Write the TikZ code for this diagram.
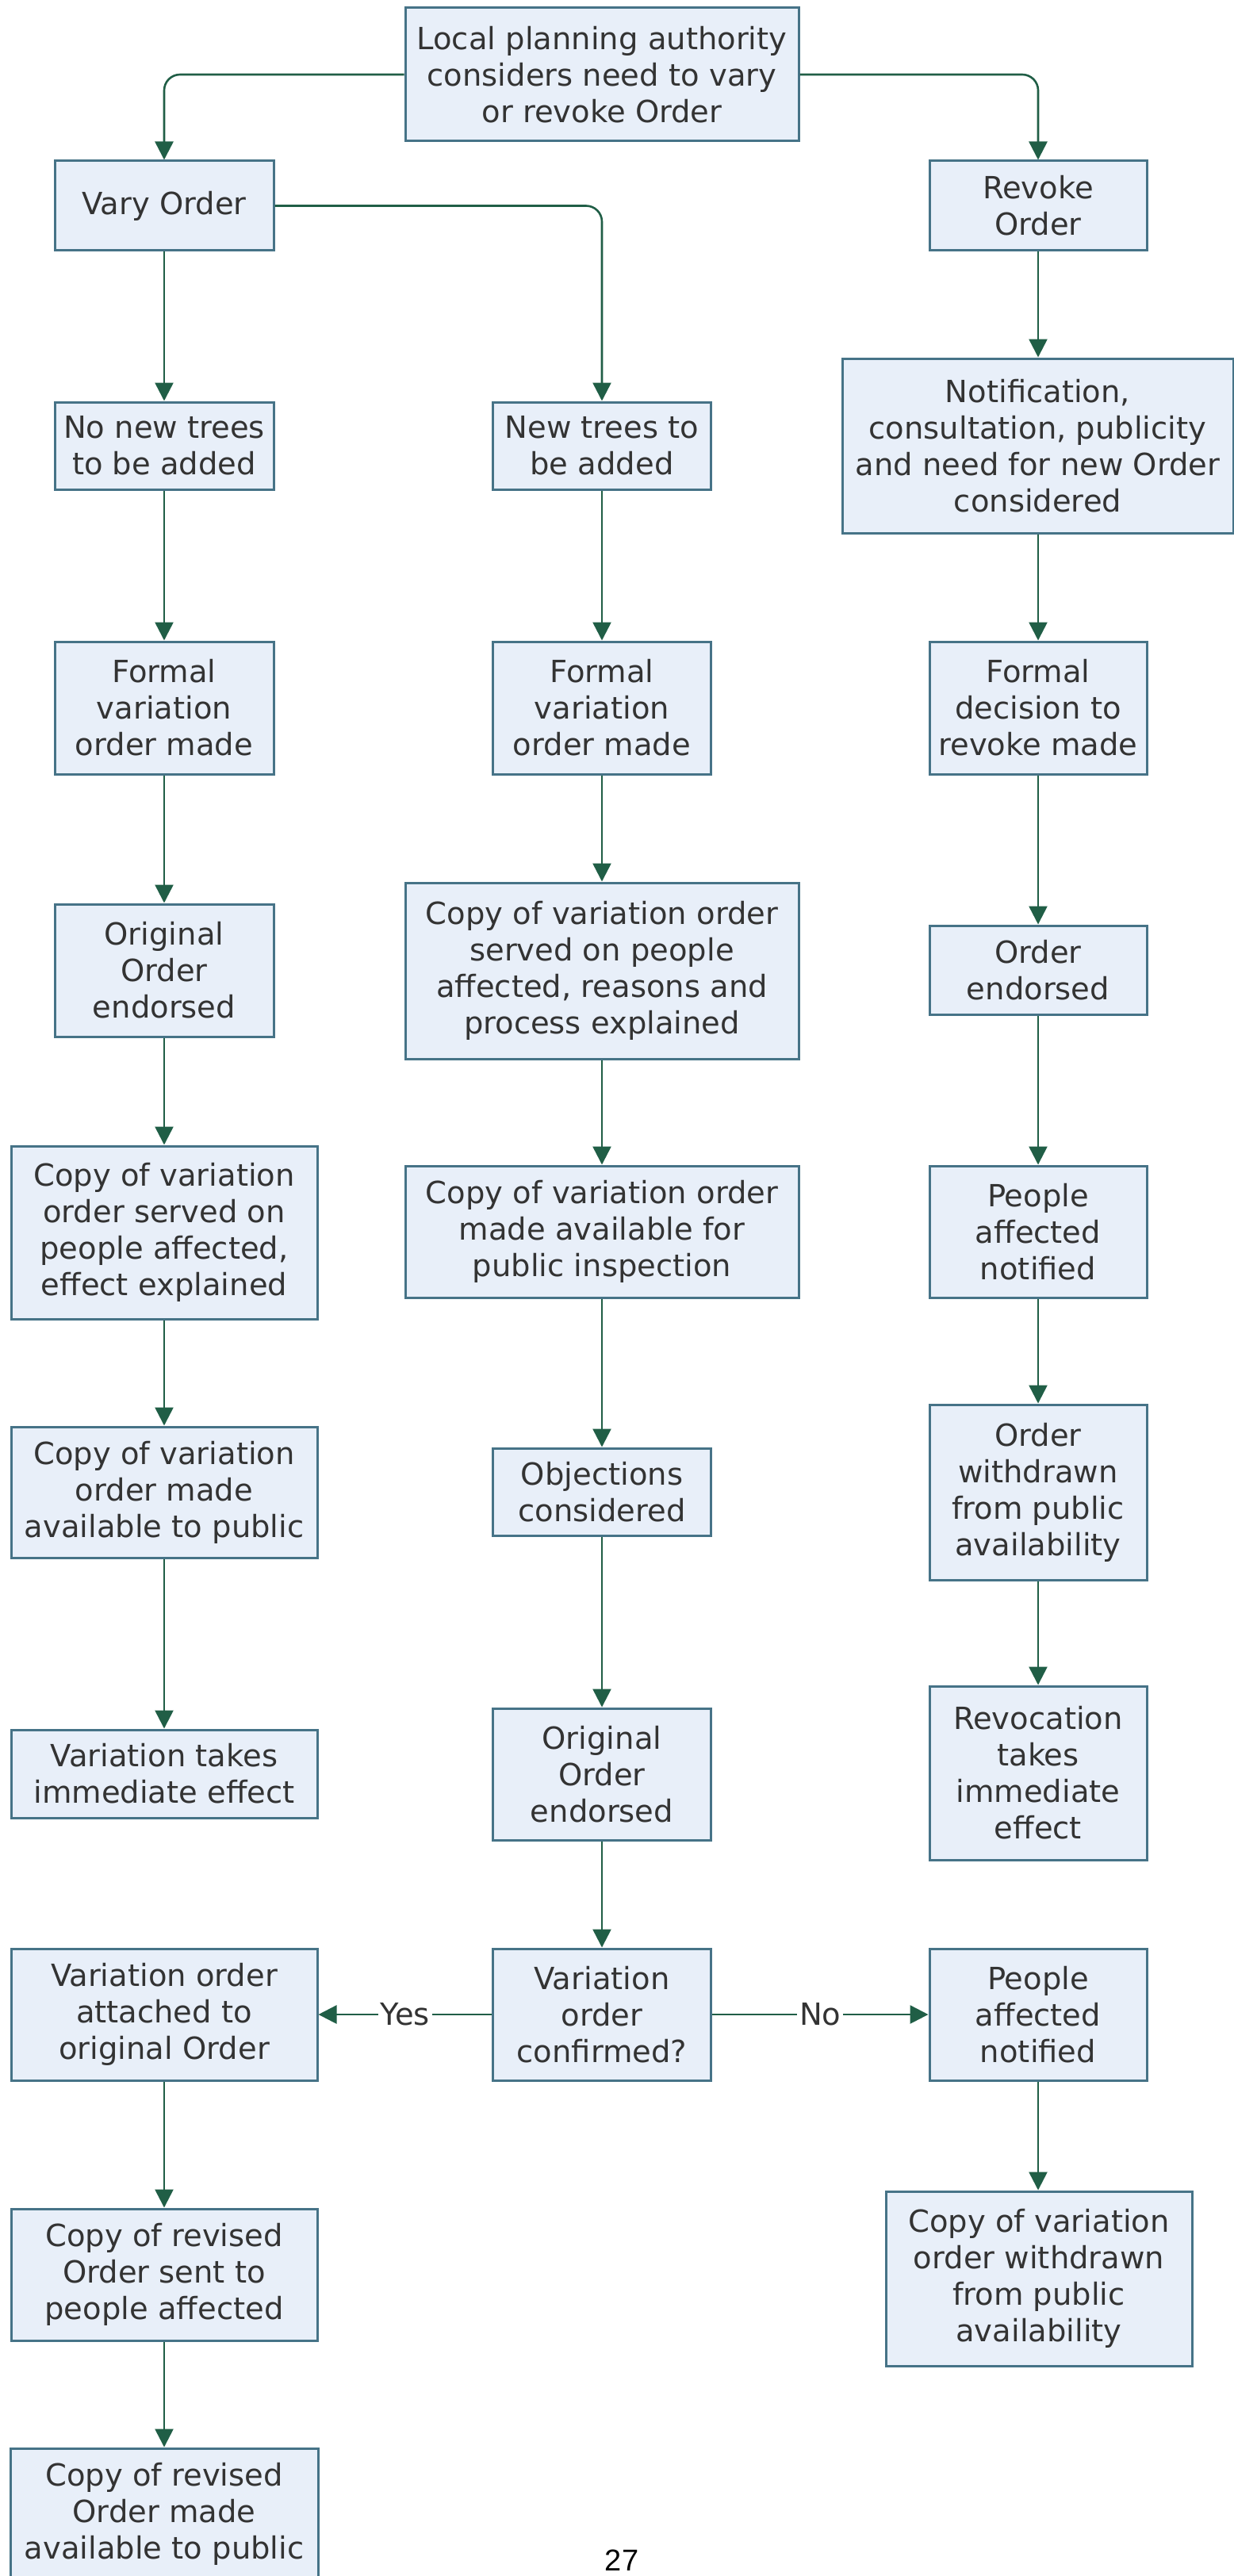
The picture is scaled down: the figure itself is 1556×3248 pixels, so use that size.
\documentclass[tikz,border=0pt]{standalone}
\usepackage{fontspec}
\setmainfont{DejaVu Sans}
\newfontfamily\arialfont{Liberation Sans}
\usetikzlibrary{arrows.meta}
\definecolor{boxfill}{RGB}{232,239,249}
\definecolor{boxline}{RGB}{70,115,135}
\definecolor{arrcol}{RGB}{32,94,70}
\definecolor{txtcol}{RGB}{51,51,51}
\begin{document}
\begin{tikzpicture}[x=0.5pt,y=-0.5pt,
 box/.style={draw=boxline, line width=1.5pt, fill=boxfill, align=center, inner sep=0pt, text=txtcol, font=\fontsize{19.25pt}{23pt}\selectfont},
 arr/.style={draw=arrcol, line width=1.3pt, -{Triangle[length=11.5pt,width=11.5pt]}},
 lbl/.style={fill=white, inner sep=1.5pt, text=txtcol, font=\fontsize{19.25pt}{23pt}\selectfont}]
\fill[white] (0,0) rectangle (1556,3248);
\clip (0,0) rectangle (1556,3248);
\useasboundingbox (0,0) rectangle (1556,3248);

% row nodes
\node[box, minimum width=248pt, minimum height=84pt] (top) at (759,94) {Local planning authority\\considers need to vary\\or revoke Order};
\node[box, minimum width=138pt, minimum height=56.5pt] (vary) at (207,259.5) {Vary Order};
\node[box, minimum width=137pt, minimum height=56.5pt] (revoke) at (1309,259.5) {Revoke\\Order};
\node[box, minimum width=138pt, minimum height=55pt] (nonew) at (207,562) {No new trees\\to be added};
\node[box, minimum width=137.5pt, minimum height=55pt] (newtr) at (759,562) {New trees to\\be added};
\node[box, minimum width=246.5pt, minimum height=110pt] (notif) at (1308.5,562) {Notification,\\consultation, publicity\\and need for new Order\\considered};
\node[box, minimum width=138pt, minimum height=83.5pt] (formL) at (207,892.5) {Formal\\variation\\order made};
\node[box, minimum width=137.5pt, minimum height=83.5pt] (formM) at (759,892.5) {Formal\\variation\\order made};
\node[box, minimum width=137pt, minimum height=83.5pt] (formR) at (1309,892.5) {Formal\\decision to\\revoke made};
\node[box, minimum width=138pt, minimum height=83.5pt] (origL) at (207,1223.5) {Original\\Order\\endorsed};
\node[box, minimum width=248pt, minimum height=111pt] (servM) at (759,1224) {Copy of variation order\\served on people\\affected, reasons and\\process explained};
\node[box, minimum width=137pt, minimum height=56pt] (endR) at (1309,1223) {Order\\endorsed};
\node[box, minimum width=193pt, minimum height=109pt] (servL) at (207,1554) {Copy of variation\\order served on\\people affected,\\effect explained};
\node[box, minimum width=248pt, minimum height=83pt] (availM) at (759,1553) {Copy of variation order\\made available for\\public inspection};
\node[box, minimum width=137pt, minimum height=83pt] (peopR) at (1309,1553) {People\\affected\\notified};
\node[box, minimum width=193pt, minimum height=82.5pt] (availL) at (207,1881.5) {Copy of variation\\order made\\available to public};
\node[box, minimum width=137.5pt, minimum height=55pt] (objM) at (759,1881) {Objections\\considered};
\node[box, minimum width=137pt, minimum height=110.5pt] (withR) at (1309,1881.5) {Order\\withdrawn\\from public\\availability};
\node[box, minimum width=193pt, minimum height=55.5pt] (immL) at (207,2236.5) {Variation takes\\immediate effect};
\node[box, minimum width=137.5pt, minimum height=83pt] (origM) at (759,2237) {Original\\Order\\endorsed};
\node[box, minimum width=137pt, minimum height=109.5pt] (revoc) at (1309,2235.5) {Revocation\\takes\\immediate\\effect};
\node[box, minimum width=193pt, minimum height=83pt] (attL) at (207,2540) {Variation order\\attached to\\original Order};
\node[box, minimum width=137.5pt, minimum height=83pt] (confM) at (759,2540) {Variation\\order\\confirmed?};
\node[box, minimum width=137pt, minimum height=83pt] (peop2R) at (1309,2540) {People\\affected\\notified};
\node[box, minimum width=193pt, minimum height=83pt] (sentL) at (207,2868) {Copy of revised\\Order sent to\\people affected};
\node[box, minimum width=193pt, minimum height=110pt] (wdrR) at (1310,2873) {Copy of variation\\order withdrawn\\from public\\availability};
\node[box, minimum width=194pt, minimum height=83pt] (lastL) at (207,3170) {Copy of revised\\Order made\\available to public};
\node[text=black, inner sep=0pt, font=\arialfont\fontsize{19pt}{22pt}\selectfont] (pg) at (784,3228) {27};

% connectors
\draw[arr, rounded corners=10pt] (top.west) -| (vary.north);
\draw[arr, rounded corners=10pt] (top.east) -| (revoke.north);
\draw[arr, rounded corners=10pt] (vary.east) -| (newtr.north);

\draw[arr] (vary.south) -- (nonew.north);
\draw[arr] (nonew.south) -- (formL.north);
\draw[arr] (formL.south) -- (origL.north);
\draw[arr] (origL.south) -- (servL.north);
\draw[arr] (servL.south) -- (availL.north);
\draw[arr] (availL.south) -- (immL.north);
\draw[arr] (attL.south) -- (sentL.north);
\draw[arr] (sentL.south) -- (lastL.north);

\draw[arr] (newtr.south) -- (formM.north);
\draw[arr] (formM.south) -- (servM.north);
\draw[arr] (servM.south) -- (availM.north);
\draw[arr] (availM.south) -- (objM.north);
\draw[arr] (objM.south) -- (origM.north);
\draw[arr] (origM.south) -- (confM.north);

\draw[arr] (revoke.south) -- (notif.north -| revoke.south);
\draw[arr] (notif.south -| formR.north) -- (formR.north);
\draw[arr] (formR.south) -- (endR.north);
\draw[arr] (endR.south) -- (peopR.north);
\draw[arr] (peopR.south) -- (withR.north);
\draw[arr] (withR.south) -- (revoc.north);
\draw[arr] (peop2R.south) -- (wdrR.north -| peop2R.south);

\draw[arr] (confM.west) -- node[lbl] {Yes} (attL.east);
\draw[arr] (confM.east) -- node[lbl] {No} (peop2R.west);
\end{tikzpicture}
\end{document}
